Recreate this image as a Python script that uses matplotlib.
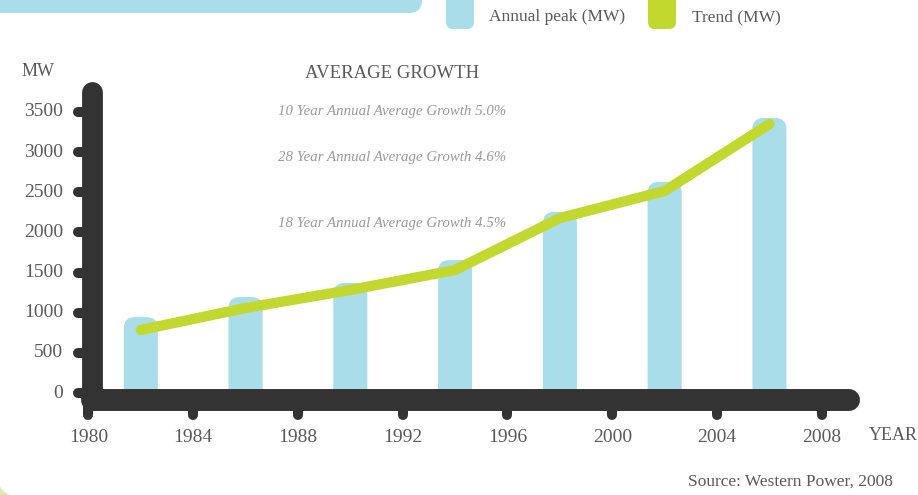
import matplotlib
matplotlib.use("Agg")
import matplotlib.pyplot as plt
from matplotlib.patches import FancyBboxPatch, Rectangle
from matplotlib.transforms import IdentityTransform

# ---------------- data ----------------
years = [1982, 1986, 1990, 1994, 1998, 2002, 2006]
annual_peak = [945, 1195, 1370, 1655, 2255, 2630, 3425]
trend = [785, 1059, 1283, 1532, 2179, 2516, 3350]
x_ticks = [1980, 1984, 1988, 1992, 1996, 2000, 2004, 2008]
y_ticks = [0, 500, 1000, 1500, 2000, 2500, 3000, 3500]
growth_notes = ["10 Year Annual Average Growth 5.0%",
                "28 Year Annual Average Growth 4.6%",
                "18 Year Annual Average Growth 4.5%"]
legend_labels = ["Annual peak (MW)", "Trend (MW)"]

# ---------------- style ----------------
BLUE = "#a8dde9"
GREEN = "#c2d82e"
DARK = "#333333"
TEXT = "#5a5a5a"
NOTE = "#9a9a9a"
FONT = "Liberation Serif"

W, H = 918, 495
fig = plt.figure(figsize=(W / 100, H / 100), dpi=100)
fig.patch.set_facecolor("white")


def fx(px):
    return px / W


def fy(py):
    return 1 - py / H


# background decorations (pixel/display coords)
ident = IdentityTransform()
fig.add_artist(Rectangle((0, 0), 40, 30, transform=ident, fc="#dcebb4", ec="none", zorder=-11))
fig.add_artist(FancyBboxPatch((-3, -2), 960, 540, boxstyle="round,pad=0,rounding_size=25",
                              transform=ident, fc="white", ec="none", zorder=-10))
fig.add_artist(FancyBboxPatch((-40, H - 13), 462, 60, boxstyle="round,pad=0,rounding_size=13",
                              transform=ident, fc=BLUE, ec="none", zorder=-5))

# legend
fig.add_artist(FancyBboxPatch((446, H - 29), 28, 40, boxstyle="round,pad=0,rounding_size=7",
                              transform=ident, fc=BLUE, ec="none", zorder=1))
fig.add_artist(FancyBboxPatch((648, H - 29), 28, 40, boxstyle="round,pad=0,rounding_size=7",
                              transform=ident, fc=GREEN, ec="none", zorder=1))
fig.text(fx(489), fy(17), legend_labels[0], ha="left", va="center", fontsize=12.5,
         family=FONT, color=TEXT)
fig.text(fx(692), fy(17), legend_labels[1], ha="left", va="center", fontsize=12.5,
         family=FONT, color=TEXT)

# ---------------- axes ----------------
x0px, x1px = 88.4, 821.8
y0px, y1px = 393, 112
ax = fig.add_axes([fx(x0px), fy(y0px), (x1px - x0px) / W, (y0px - y1px) / H])
ax.set_xlim(x_ticks[0], x_ticks[-1])
ax.set_ylim(y_ticks[0], y_ticks[-1])
ax.axis("off")

yr_per_px = (x_ticks[-1] - x_ticks[0]) / (x1px - x0px)
mw_per_px = (y_ticks[-1] - y_ticks[0]) / (y0px - y1px)
aspect = mw_per_px / yr_per_px

# bars with rounded tops
bar_w = 34 * yr_per_px
r = 11 * yr_per_px
base = -200
for yr, v in zip(years, annual_peak):
    ax.add_patch(FancyBboxPatch((yr - bar_w / 2, base), bar_w, v - base,
                                boxstyle=f"round,pad=0,rounding_size={r}",
                                mutation_aspect=aspect, fc=BLUE, ec="none",
                                clip_on=False, zorder=2))

# trend line
ax.plot(years, trend, color=GREEN, lw=7.4, solid_capstyle="round",
        solid_joinstyle="round", clip_on=False, zorder=4)

# thick rounded axes
yaxis_x = x_ticks[0] + (92 - x0px) * yr_per_px
xbar_y = -7 * mw_per_px
ax.plot([yaxis_x, yaxis_x], [xbar_y, (y0px - 92) * mw_per_px], color=DARK,
        lw=15, solid_capstyle="round", clip_on=False, zorder=5)
ax.plot([yaxis_x, x_ticks[0] + (849 - x0px) * yr_per_px], [xbar_y, xbar_y], color=DARK,
        lw=15.8, solid_capstyle="round", clip_on=False, zorder=5)

# tick stubs
for t in y_ticks:
    ax.plot([yaxis_x - 14 * yr_per_px, yaxis_x], [t, t], color=DARK, lw=7.2,
            solid_capstyle="round", clip_on=False, zorder=5)
for t in x_ticks:
    ax.plot([t, t], [xbar_y, -22 * mw_per_px], color=DARK, lw=7.2,
            solid_capstyle="round", clip_on=False, zorder=5)

# tick labels
for t in y_ticks:
    ax.text(yaxis_x - 29 * yr_per_px, t, str(t), ha="right", va="center",
            fontsize=14, family=FONT, color=TEXT, clip_on=False)
for t in x_ticks:
    ax.text(t, -44 * mw_per_px, str(t), ha="center", va="center",
            fontsize=14, family=FONT, color=TEXT, clip_on=False)

# titles / labels
fig.text(fx(38), fy(71), "MW", ha="center", va="center", fontsize=13, family=FONT, color=TEXT)
fig.text(fx(392), fy(73), "AVERAGE GROWTH", ha="center", va="center", fontsize=13.5,
         family=FONT, color=TEXT)
fig.text(fx(893), fy(436), "YEAR", ha="center", va="center", fontsize=13, family=FONT,
         color=TEXT)
fig.text(fx(893), fy(482), "Source: Western Power, 2008", ha="right", va="center",
         fontsize=12.5, family=FONT, color=TEXT)

for note, py in zip(growth_notes, [111, 158, 223]):
    fig.text(fx(392), fy(py), note, ha="center", va="center", fontsize=10.7, family=FONT,
             style="italic", color=NOTE)

fig.savefig("out.png", dpi=100)
